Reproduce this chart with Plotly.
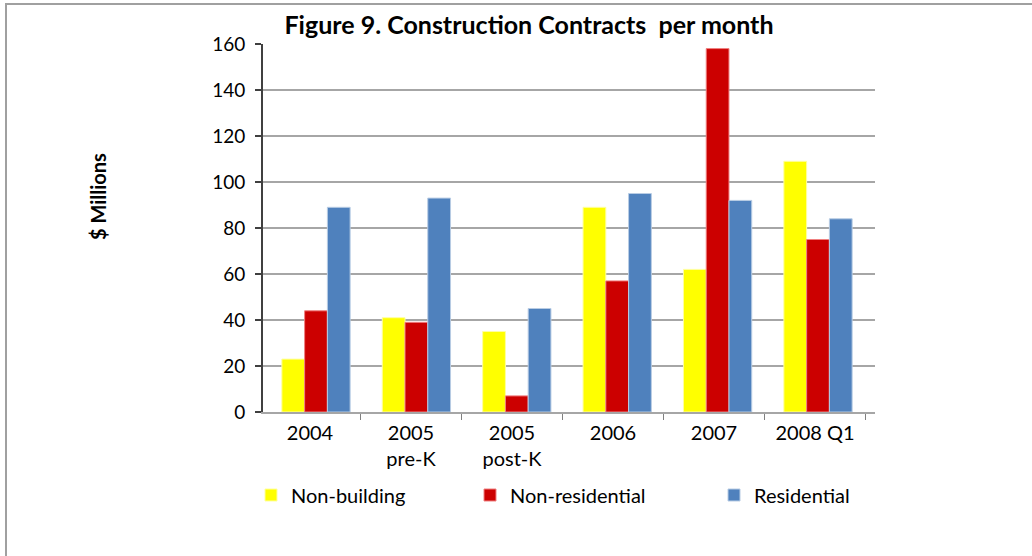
import plotly.graph_objects as go

categories = ["2004", "2005<br>pre-K", "2005<br>post-K", "2006", "2007", "2008 Q1"]
non_building = [23, 41, 35, 89, 62, 109]
non_residential = [44, 39, 7, 57, 158, 75]
residential = [89, 93, 45, 95, 92, 84]
y_ticks = [0, 20, 40, 60, 80, 100, 120, 140, 160]

FONT = "Lato"
W, H = 1032, 556
L, R, T, B = 263, 157, 44, 144
pw = W - L - R
ph = H - T - B

fig = go.Figure()
series = [
    ("Non-building", non_building, "#FFFF00", "#FFFFA0", "legend", 251),
    ("Non-residential", non_residential, "#CC0000", "#F08080", "legend2", 470),
    ("Residential", residential, "#4F81BD", "#B8CCE4", "legend3", 714),
]
idx = list(range(len(categories)))
for name, vals, col, edge, lg, _ in series:
    fig.add_trace(go.Bar(
        x=idx, y=vals, name=name,
        marker=dict(color=col, line=dict(color=edge, width=1)),
        xaxis="x", yaxis="y", legend=lg,
    ))

# invisible trace carrying the category labels on the front axis
fig.add_trace(go.Scatter(x=categories, y=[None]*len(categories), xaxis="x2", yaxis="y",
                         showlegend=False, hoverinfo="skip", mode="markers"))

grp = 100.4
x0_units = (316 - L) / grp
lab = 101.0
x2_start = (310 - L) / lab

legend_common = dict(orientation="h", xanchor="left",
                     y=-(495 - 412) / ph, yanchor="middle",
                     font=dict(family=FONT, size=20, color="black"),
                     itemwidth=30, bgcolor="rgba(0,0,0,0)")
legends = {}
for i, (_, _, _, _, lg, px) in enumerate(series):
    legends[lg] = dict(legend_common, x=(px - L) / pw)

fig.update_layout(
    width=W, height=H,
    margin=dict(l=L, r=R, t=T, b=B),
    paper_bgcolor="white", plot_bgcolor="white",
    barmode="group", bargap=0.32, bargroupgap=0.0,
    font=dict(family=FONT, size=20, color="black"),
    xaxis=dict(domain=[0, 1], range=[-x0_units, -x0_units + pw / grp], visible=False,
               fixedrange=True),
    xaxis2=dict(domain=[0, 1], anchor="y", overlaying="x", type="category",
                categoryorder="array", categoryarray=categories,
                range=[-x2_start, -x2_start + pw / lab],
                showline=True, linecolor="#A6A6A6", linewidth=2,
                ticks="outside", tickson="boundaries", ticklen=6, tickcolor="#808080",
                tickfont=dict(family=FONT, size=20, color="black"),
                ticklabelstandoff=2,
                showgrid=False, zeroline=False),
    yaxis=dict(range=[0, 160], tickvals=y_ticks, showgrid=True, gridcolor="#A6A6A6", gridwidth=2,
               showline=True, linecolor="#404040", linewidth=2,
               ticks="outside", ticklen=6, tickcolor="#404040", tickwidth=2,
               tickfont=dict(family=FONT, size=19, color="black"),
               zeroline=False, ticklabelstandoff=6),
    title=dict(text="<b>Figure 9. Construction Contracts  per month</b>",
               x=529 / W, xanchor="center", y=1 - 25 / H, yanchor="middle",
               font=dict(family=FONT, size=25, color="black")),
    annotations=[dict(text="<b>$ Millions</b>", textangle=-90, xref="paper", yref="paper",
                      x=(98 - L) / pw, y=(412 - 197) / ph, showarrow=False,
                      xanchor="center", yanchor="middle",
                      font=dict(family=FONT, size=20, color="black"))],
    shapes=[dict(type="rect", xref="paper", yref="paper",
                 x0=(6 - L) / pw, x1=(1040 - L) / pw, y0=(412 - 600) / ph, y1=(412 - 4) / ph,
                 line=dict(color="#A0A0A0", width=2), fillcolor="rgba(0,0,0,0)", layer="below")],
    **legends,
)

fig.write_html("out.html", config={"displayModeBar": False},
               post_script="document.body.style.margin='0';")
